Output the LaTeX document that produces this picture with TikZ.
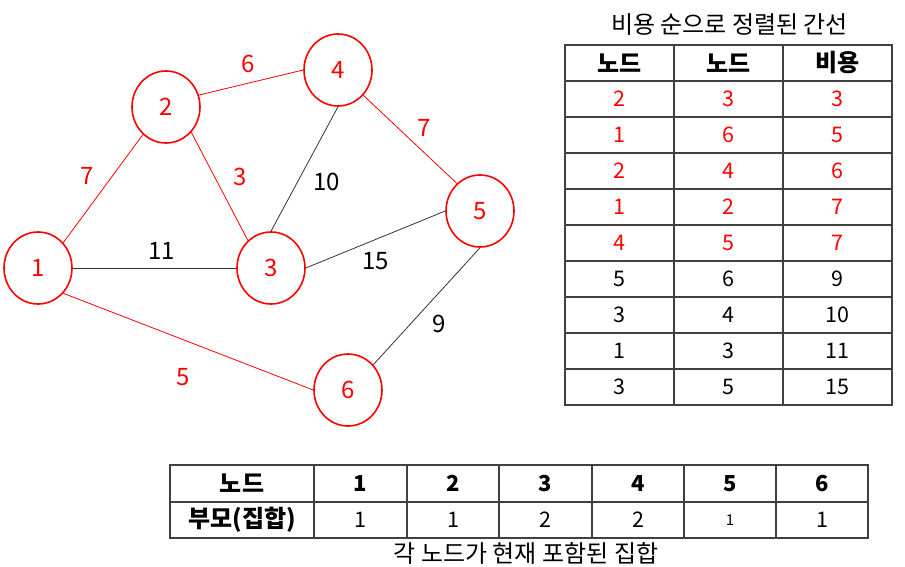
\documentclass[tikz,border=0pt]{standalone}
\usepackage{fontspec}
\setmainfont{Noto Sans CJK KR}
\usepackage{tikz}
\usetikzlibrary{positioning,calc,shapes,shapes.geometric}

\begin{document}
\begin{tikzpicture}[x=1pt,y=-1pt,
    vertex/.style={ellipse, draw=red, line width=1.6pt, text=red, minimum width=68pt, minimum height=72pt, inner sep=0pt, font=\fontsize{24}{28}\selectfont},
    used/.style={draw=red, line width=0.8pt},
    unused/.style={draw=black!80, line width=0.8pt},
    wt/.style={font=\fontsize{24}{28}\selectfont, inner sep=0pt},
    tableline/.style={draw=black!75, line width=1.6pt},
    cell/.style={font=\fontsize{21.5}{25}\selectfont, inner sep=0pt},
    head/.style={font=\bfseries\fontsize{24}{28}\selectfont, inner sep=0pt},
    headnum/.style={font=\bfseries\fontsize{22}{26}\selectfont, inner sep=0pt}]
           \useasboundingbox (0,0) rectangle (905,567);
           % graph
           \node[vertex] (1) at (38,268) {1};
           \node[vertex] (2) at (166,107) {2};
           \node[vertex] (3) at (271,268) {3};
           \node[vertex] (4) at (338,70) {4};
           \node[vertex] (5) at (480,211) {5};
           \node[vertex] (6) at (348,390) {6};
           \path (1.45) edge [used] node [wt, text=red, xshift=-16pt, yshift=13pt] {7} (2.-130)
           (2.20) edge [used] node [wt, text=red, xshift=-3pt, yshift=19pt] {6} (4.west)
           (2.-45) edge [used] node [wt, text=red, xshift=21pt, yshift=9pt] {3} (3.130)
           (3.north) edge [unused] node [wt, xshift=22pt, yshift=-13pt] {10} (4.south)
           (4.-45) edge [used] node [wt, text=red, xshift=14pt, yshift=11pt] {7} (5.130)
           (1.east) edge [unused] node [wt, xshift=7pt, yshift=17pt] {11} (3.west)
           (3.east) edge [unused] node [wt, yshift=-22pt] {15} (5.west)
           (5.south) edge [unused] node [wt, xshift=13pt, yshift=-18pt] {9} (6.45)
           (1.-45) edge [used] node [wt, text=red, xshift=-5pt, yshift=-35pt] {5} (6.west);
           % sorted edges
           \node[font=\fontsize{24}{28}\selectfont, inner sep=0pt] (title) at (729.5,25) {비용 순으로 정렬된 간선};
           \draw[tableline] (565,45) rectangle (892,405);
           \foreach \y in {81,117,...,369} \draw[tableline] (565,\y) -- (892,\y);
           \draw[tableline] (674,45) -- (674,405) (783,45) -- (783,405);
           \node[head] (ha) at (619.5,63) {노드};
           \node[head] (hb) at (728.5,63) {노드};
           \node[head] (hc) at (837.5,63) {비용};
           \foreach \a/\b/\c/\col [count=\i] in {2/3/3/red,1/6/5/red,2/4/6/red,1/2/7/red,4/5/7/red,5/6/9/black,3/4/10/black,1/3/11/black,3/5/15/black}
           {
             \node[cell, text=\col] (r\i a) at (619.5,63+36*\i) {\a};
             \node[cell, text=\col] (r\i b) at (728.5,63+36*\i) {\b};
             \node[cell, text=\col] (r\i c) at (837.5,63+36*\i) {\c};
           }
           % parent table
           \draw[tableline] (170,465) rectangle (868,538);
           \draw[tableline] (170,502) -- (868,502);
           \foreach \x in {314,407,499,592,684,776} \draw[tableline] (\x,465) -- (\x,538);
           \node[head] (pk) at (242,483.5) {노드};
           \node[head] (pv) at (242,520) {부모(집합)};
           \foreach \x/\p [count=\i] in {360.5/1,453/1,545.5/2,638/2,730/1,822/1}
           {
             \node[headnum] (k\i) at (\x,483.5) {\i};
             \ifnum\i=5
               \node[cell, font=\fontsize{15}{18}\selectfont] (v\i) at (\x,520) {\p};
             \else
               \node[cell] (v\i) at (\x,520) {\p};
             \fi
           }
           \node[font=\fontsize{24}{28}\selectfont, inner sep=0pt] (caption) at (526,553) {각 노드가 현재 포함된 집합};
        \end{tikzpicture}
\end{document}
